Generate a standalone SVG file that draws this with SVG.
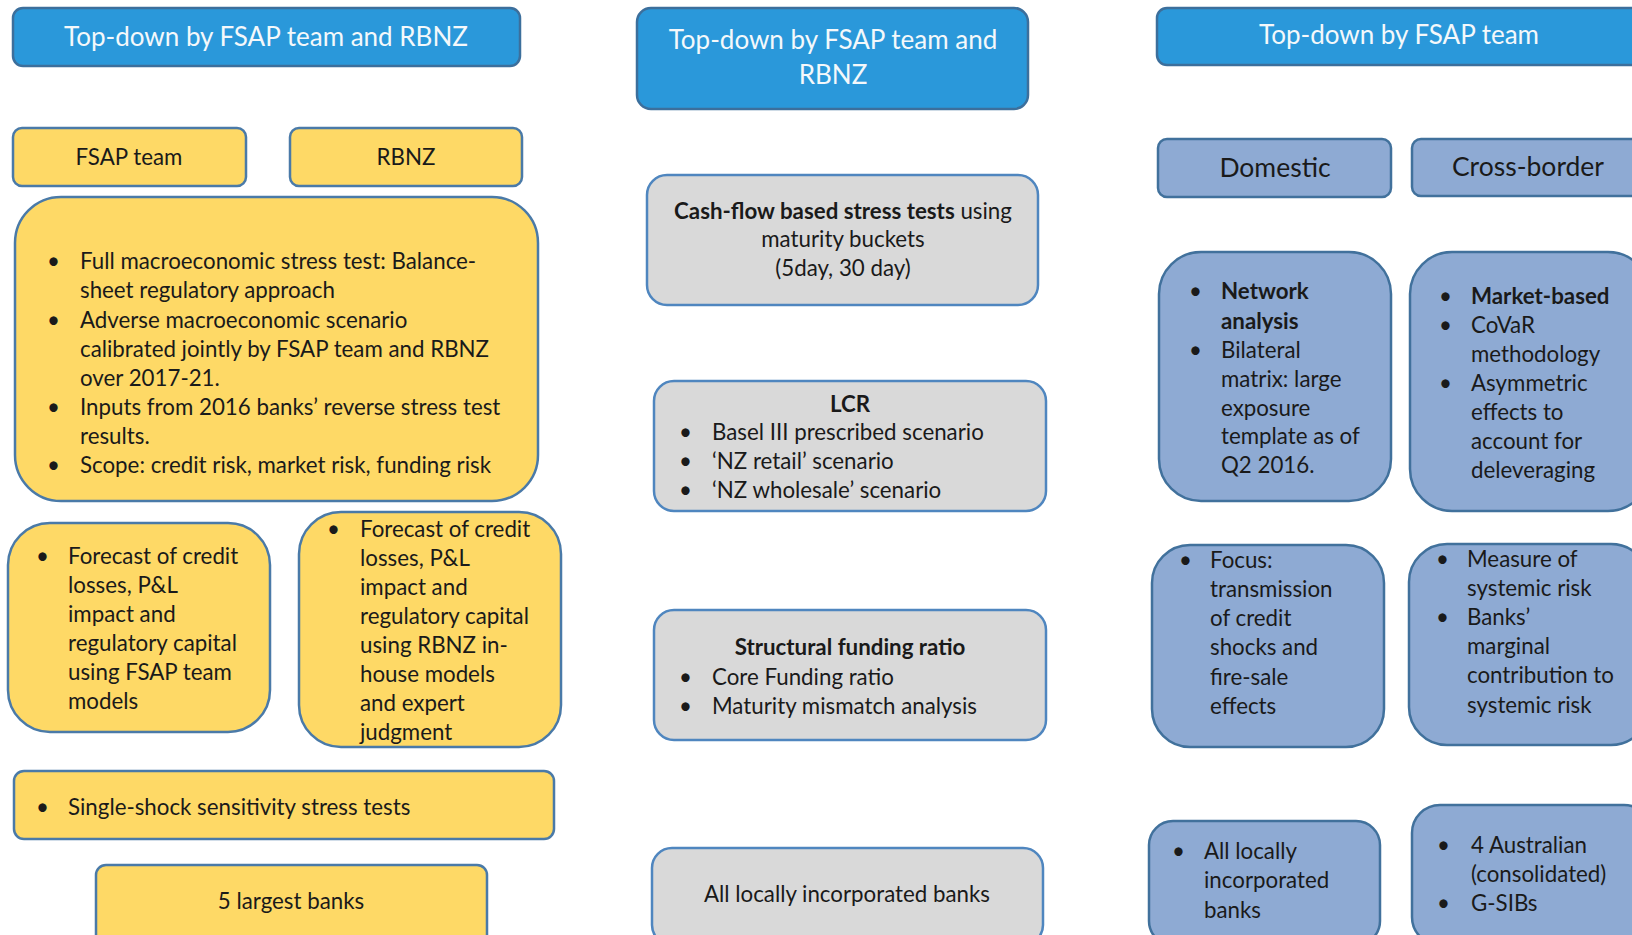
<svg xmlns="http://www.w3.org/2000/svg" width="1632" height="935" viewBox="0 0 1632 935">
<style>
text{font-family:Lato,"Open Sans","Liberation Sans",sans-serif;fill:#1a1a1a;font-size:22.3px}
.t{fill:#f4f8fb;font-size:26px}
.c{text-anchor:middle}
.b{font-weight:bold}
.blue{fill:#2a98da;stroke:#3c6f9c;stroke-width:2.5}
.yel{fill:#fed966;stroke:#4a7aa8;stroke-width:2.5}
.gry{fill:#d9d9d9;stroke:#4f86bf;stroke-width:2.5}
.bg{fill:#8eaad3;stroke:#41719c;stroke-width:2.5}
.big{font-size:26.5px}
</style>
<rect width="1632" height="935" fill="#ffffff"/>
<g id="connectors"/>

<g id="left-title"><rect class="blue" x="13" y="8" width="507" height="58" rx="10"/><text class="t c" x="266" y="46">Top-down by FSAP team and RBNZ</text></g>
<g id="fsap-team"><rect class="yel" x="13" y="128" width="233" height="58" rx="9"/><text class="c" x="129" y="165">FSAP team</text></g>
<g id="rbnz"><rect class="yel" x="290" y="128" width="232" height="58" rx="9"/><text class="c" x="406" y="165">RBNZ</text></g>
<g id="macro"><rect class="yel" x="15" y="197" width="523" height="304" rx="46"/>
<text x="47" y="269">•</text><text x="80" y="269">Full macroeconomic stress test: Balance-</text>
<text x="80" y="298">sheet regulatory approach</text>
<text x="47" y="328">•</text><text x="80" y="328">Adverse macroeconomic scenario</text>
<text x="80" y="357">calibrated jointly by FSAP team and RBNZ</text>
<text x="80" y="386">over 2017-21.</text>
<text x="47" y="415">•</text><text x="80" y="415">Inputs from 2016 banks’ reverse stress test</text>
<text x="80" y="444">results.</text>
<text x="47" y="473">•</text><text x="80" y="473">Scope: credit risk, market risk, funding risk</text>
</g>
<g id="fsap-forecast"><rect class="yel" x="8" y="523" width="262" height="209" rx="42"/>
<text x="36" y="564">•</text><text x="68" y="564">Forecast of credit</text>
<text x="68" y="593">losses, P&amp;L</text>
<text x="68" y="622">impact and</text>
<text x="68" y="651">regulatory capital</text>
<text x="68" y="680">using FSAP team</text>
<text x="68" y="709">models</text>
</g>
<g id="rbnz-forecast"><rect class="yel" x="299" y="512" width="262" height="235" rx="42"/>
<text x="327" y="537">•</text><text x="360" y="537">Forecast of credit</text>
<text x="360" y="566">losses, P&amp;L</text>
<text x="360" y="595">impact and</text>
<text x="360" y="624">regulatory capital</text>
<text x="360" y="653">using RBNZ in-</text>
<text x="360" y="682">house models</text>
<text x="360" y="711">and expert</text>
<text x="360" y="740">judgment</text>
</g>
<g id="single-shock"><rect class="yel" x="14" y="771" width="540" height="68" rx="10"/>
<text x="36" y="815">•</text><text x="68" y="815">Single-shock sensitivity stress tests</text></g>
<g id="five-largest"><rect class="yel" x="96" y="865" width="391" height="80" rx="10"/><text class="c" x="291" y="909">5 largest banks</text></g>

<g id="mid-title"><rect class="blue" x="637" y="8" width="391" height="101" rx="14"/>
<text class="t c" x="833" y="49">Top-down by FSAP team and</text><text class="t c" x="833" y="84">RBNZ</text></g>
<g id="cashflow"><rect class="gry" x="647" y="175" width="391" height="130" rx="20"/>
<text class="c" x="843" y="219"><tspan class="b">Cash-flow based stress tests</tspan> using</text>
<text class="c" x="843" y="247">maturity buckets</text>
<text class="c" x="843" y="276">(5day, 30 day)</text></g>
<g id="lcr"><rect class="gry" x="654" y="381" width="392" height="130" rx="20"/>
<text class="c b" x="850" y="412">LCR</text>
<text x="679" y="440">•</text><text x="712" y="440">Basel III prescribed scenario</text>
<text x="679" y="469">•</text><text x="712" y="469">‘NZ retail’ scenario</text>
<text x="679" y="498">•</text><text x="712" y="498">‘NZ wholesale’ scenario</text></g>
<g id="structural"><rect class="gry" x="654" y="610" width="392" height="130" rx="20"/>
<text class="c b" x="850" y="655">Structural funding ratio</text>
<text x="679" y="685">•</text><text x="712" y="685">Core Funding ratio</text>
<text x="679" y="714">•</text><text x="712" y="714">Maturity mismatch analysis</text></g>
<g id="mid-banks"><rect class="gry" x="652" y="848" width="391" height="97" rx="20"/><text class="c" x="847" y="902">All locally incorporated banks</text></g>

<g id="right-title"><rect class="blue" x="1157" y="8" width="490" height="57" rx="10"/><text class="t c" x="1399" y="44">Top-down by FSAP team</text></g>
<g id="domestic"><rect class="bg" x="1158" y="139" width="233" height="58" rx="9"/><text class="c big" x="1275" y="177">Domestic</text></g>
<g id="cross-border"><rect class="bg" x="1412" y="139" width="240" height="57" rx="9"/><text class="c big" x="1528" y="176">Cross-border</text></g>
<g id="network"><rect class="bg" x="1159" y="252" width="232" height="249" rx="42"/>
<text x="1189" y="299">•</text><text class="b" x="1221" y="299">Network</text>
<text class="b" x="1221" y="329">analysis</text>
<text x="1189" y="358">•</text><text x="1221" y="358">Bilateral</text>
<text x="1221" y="387">matrix: large</text>
<text x="1221" y="416">exposure</text>
<text x="1221" y="444">template as of</text>
<text x="1221" y="473">Q2 2016.</text></g>
<g id="market"><rect class="bg" x="1410" y="252" width="240" height="259" rx="42"/>
<text x="1439" y="304">•</text><text class="b" x="1471" y="304">Market-based</text>
<text x="1439" y="333">•</text><text x="1471" y="333">CoVaR</text>
<text x="1471" y="362">methodology</text>
<text x="1439" y="391">•</text><text x="1471" y="391">Asymmetric</text>
<text x="1471" y="420">effects to</text>
<text x="1471" y="449">account for</text>
<text x="1471" y="478">deleveraging</text></g>
<g id="focus"><rect class="bg" x="1152" y="545" width="232" height="202" rx="38"/>
<text x="1179" y="568">•</text><text x="1210" y="568">Focus:</text>
<text x="1210" y="597">transmission</text>
<text x="1210" y="626">of credit</text>
<text x="1210" y="655">shocks and</text>
<text x="1210" y="685">fire-sale</text>
<text x="1210" y="714">effects</text></g>
<g id="measure"><rect class="bg" x="1409" y="544" width="240" height="201" rx="38"/>
<text x="1436" y="567">•</text><text x="1467" y="567">Measure of</text>
<text x="1467" y="596">systemic risk</text>
<text x="1436" y="625">•</text><text x="1467" y="625">Banks’</text>
<text x="1467" y="654">marginal</text>
<text x="1467" y="683">contribution to</text>
<text x="1467" y="713">systemic risk</text></g>
<g id="right-banks"><rect class="bg" x="1149" y="821" width="231" height="124" rx="24"/>
<text x="1172" y="859">•</text><text x="1204" y="859">All locally</text>
<text x="1204" y="888">incorporated</text>
<text x="1204" y="918">banks</text></g>
<g id="australian"><rect class="bg" x="1412" y="805" width="240" height="140" rx="28"/>
<text x="1437" y="853">•</text><text x="1471" y="853">4 Australian</text>
<text x="1471" y="882">(consolidated)</text>
<text x="1437" y="911">•</text><text x="1471" y="911">G-SIBs</text></g>
</svg>
